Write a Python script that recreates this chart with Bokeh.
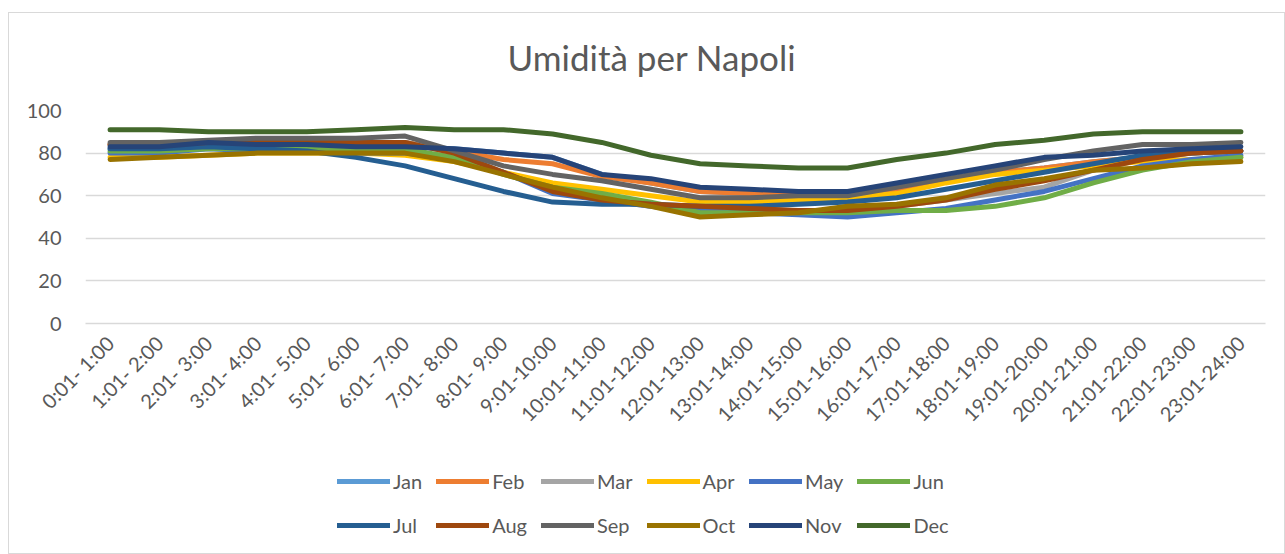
from bokeh.plotting import figure
from bokeh.layouts import column
from bokeh.models import FactorRange, Range1d, Legend, LegendItem, FixedTicker
from bokeh.embed import file_html
from bokeh.resources import INLINE

hours = ["0:01- 1:00", "1:01- 2:00", "2:01- 3:00", "3:01- 4:00", "4:01- 5:00",
         "5:01- 6:00", "6:01- 7:00", "7:01- 8:00", "8:01- 9:00", "9:01-10:00",
         "10:01-11:00", "11:01-12:00", "12:01-13:00", "13:01-14:00", "14:01-15:00",
         "15:01-16:00", "16:01-17:00", "17:01-18:00", "18:01-19:00", "19:01-20:00",
         "20:01-21:00", "21:01-22:00", "22:01-23:00", "23:01-24:00"]

months = ["Jan", "Feb", "Mar", "Apr", "May", "Jun",
          "Jul", "Aug", "Sep", "Oct", "Nov", "Dec"]

colors = ["#5B9BD5", "#ED7D31", "#A5A5A5", "#FFC000", "#4472C4", "#70AD47",
          "#255E91", "#9E480E", "#636363", "#997300", "#264478", "#43682B"]

jan = [82, 82, 83, 83, 83, 83, 83, 82, 80, 78, 70, 66, 62, 61, 60, 60, 63, 67, 71, 73, 76, 78, 80, 81]
feb = [84, 84, 84, 85, 85, 85, 85, 81, 77, 75, 69, 66, 62, 61, 60, 60, 62, 67, 71, 73, 76, 78, 80, 81]
mar = [84, 84, 85, 85, 85, 85, 85, 80, 71, 63, 58, 55, 52, 52, 52, 53, 55, 58, 61, 64, 72, 77, 80, 81]
apr = [78, 78, 79, 80, 80, 80, 79, 76, 71, 66, 63, 60, 57, 57, 58, 59, 61, 66, 70, 72, 74, 76, 77, 78]
may = [80, 80, 82, 81, 81, 80, 80, 77, 71, 61, 58, 55, 53, 52, 51, 50, 52, 54, 58, 62, 68, 74, 77, 79]
jun = [81, 81, 82, 82, 82, 82, 82, 78, 70, 64, 61, 57, 52, 52, 52, 52, 53, 53, 55, 59, 66, 72, 76, 78]
jul = [82, 82, 83, 82, 81, 78, 74, 68, 62, 57, 56, 56, 55, 55, 56, 57, 59, 63, 67, 71, 75, 79, 80, 81]
aug = [84, 84, 85, 85, 85, 85, 85, 80, 71, 62, 58, 56, 55, 54, 53, 53, 55, 58, 63, 67, 72, 77, 80, 81]
sep = [85, 85, 86, 87, 87, 87, 88, 81, 74, 70, 67, 63, 59, 59, 60, 60, 64, 68, 72, 77, 81, 84, 84, 85]
oct_ = [77, 78, 79, 80, 80, 80, 80, 76, 70, 64, 59, 55, 50, 51, 52, 55, 56, 59, 65, 68, 72, 73, 75, 76]
nov = [83, 83, 85, 84, 84, 83, 83, 82, 80, 78, 70, 68, 64, 63, 62, 62, 66, 70, 74, 78, 79, 81, 82, 83]
dec = [91, 91, 90, 90, 90, 91, 92, 91, 91, 89, 85, 79, 75, 74, 73, 73, 77, 80, 84, 86, 89, 90, 90, 90]

series = [jan, feb, mar, apr, may, jun, jul, aug, sep, oct_, nov, dec]
y_ticks = [0, 20, 40, 60, 80, 100]
title_text = "Umidità per Napoli"

FONT = "Lato"
TXT = "#595959"
GRID = "#d9d9d9"


def blank(fig):
    fig.axis.visible = False
    fig.grid.visible = False
    fig.outline_line_color = None
    fig.background_fill_color = "white"
    fig.border_fill_color = "white"


# title strip
pt = figure(width=1275, height=72, output_backend="svg", toolbar_location=None,
            title=title_text, x_range=Range1d(0, 1), y_range=Range1d(0, 1),
            min_border=0, min_border_top=68)
blank(pt)
pt.title.align = "left"
pt.title.vertical_align = "top"
pt.title.text_font = FONT
pt.title.text_font_size = "35px"
pt.title.text_font_style = "normal"
pt.title.text_color = TXT
pt.title.offset = 422
pt.title.standoff = 4

# main chart
p = figure(x_range=FactorRange(*hours, range_padding=0), y_range=Range1d(0, 100),
           width=1275, height=358, output_backend="svg", toolbar_location=None,
           min_border_left=76, min_border_right=19, min_border_top=25, min_border_bottom=120)

p.outline_line_color = None
p.background_fill_color = "white"
p.border_fill_color = "white"

p.xgrid.grid_line_color = None
p.ygrid.grid_line_color = GRID
p.ygrid.grid_line_width = 1.5
p.ygrid.ticker = FixedTicker(ticks=y_ticks)

p.yaxis.ticker = FixedTicker(ticks=y_ticks)
p.yaxis.axis_line_color = None
p.yaxis.major_tick_line_color = None
p.yaxis.minor_tick_line_color = None
p.yaxis.major_tick_out = 0
p.yaxis.major_label_standoff = 24
p.yaxis.major_label_text_font = FONT
p.yaxis.major_label_text_font_size = "20px"
p.yaxis.major_label_text_color = TXT

p.xaxis.axis_line_color = GRID
p.xaxis.axis_line_width = 1.5
p.xaxis.major_tick_line_color = None
p.xaxis.major_tick_out = 0
p.xaxis.major_label_standoff = 16
p.xaxis.major_label_orientation = 0.785398
p.xaxis.major_label_text_font = FONT
p.xaxis.major_label_text_font_size = "20px"
p.xaxis.major_label_text_color = TXT

for name, vals, c in zip(months, series, colors):
    p.line(x=hours, y=vals, line_width=5, line_color=c,
           line_cap="round", line_join="round")

# legend strip: same series drawn far outside its visible y-range, only the legend shows
pl = figure(width=1275, height=110, output_backend="svg", toolbar_location=None,
            x_range=FactorRange(*hours, range_padding=0), y_range=Range1d(1000, 1001),
            min_border=0)
blank(pl)

items = []
for name, vals, c in zip(months, series, colors):
    r = pl.line(x=hours, y=vals, line_width=5, line_color=c, line_cap="round")
    items.append(LegendItem(label=name, renderers=[r]))

legend = Legend(items=items, orientation="horizontal", ncols=6,
                location=(252, 13), border_line_color=None,
                background_fill_alpha=0, padding=10, spacing=14,
                glyph_width=53, glyph_height=30, label_height=30,
                label_standoff=3, label_text_font=FONT,
                label_text_font_size="20px", label_text_color=TXT)
pl.add_layout(legend)

layout = column(pt, p, pl, spacing=0)
layout.styles = {"border": "1px solid #d9d9d9", "margin-top": "12px", "margin-left": "8px"}

open("out.html", "w").write(file_html(layout, INLINE))
